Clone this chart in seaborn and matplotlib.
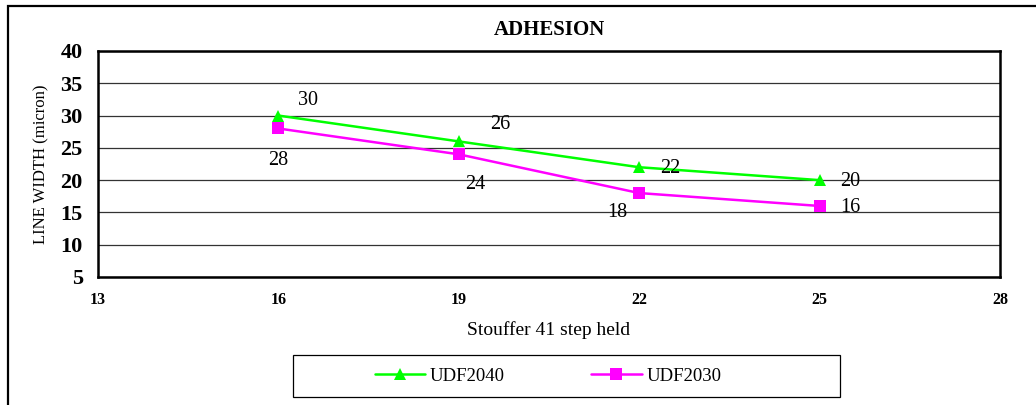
import matplotlib
matplotlib.use("Agg")
import matplotlib.pyplot as plt
import seaborn as sns
import pandas as pd
from matplotlib.patches import Rectangle

# Data
steps = [16, 19, 22, 25]
udf2040 = [30, 26, 22, 20]
udf2030 = [28, 24, 18, 16]
series_names = ["UDF2040", "UDF2030"]

x_ticks = [13, 16, 19, 22, 25, 28]
y_ticks = [5, 10, 15, 20, 25, 30, 35, 40]

# Label offsets in points (dx, dy) for each value label
off_2040 = [(21, 11), (30, 12), (22, -1), (22, -1)]
off_2030 = [(0, -23), (12, -22), (-16, -14), (22, -1)]

sns.set_theme(style="white")
plt.rcParams["font.family"] = ["Liberation Serif", "DejaVu Serif"]
plt.rcParams["text.color"] = "black"
plt.rcParams["axes.labelcolor"] = "black"
plt.rcParams["xtick.color"] = "black"
plt.rcParams["ytick.color"] = "black"

W, H = 1036, 405
fig = plt.figure(figsize=(W / 100, H / 100), dpi=100)
ax = fig.add_axes([98 / W, 1 - 277 / H, 902 / W, 226 / H])

df = pd.DataFrame({
    "step": steps * 2,
    "width": udf2040 + udf2030,
    "series": [series_names[0]] * len(steps) + [series_names[1]] * len(steps),
})

palette = {"UDF2040": "#00FF00", "UDF2030": "#FF00FF"}
markers = {"UDF2040": "^", "UDF2030": "s"}
sns.lineplot(data=df, x="step", y="width", hue="series", style="series",
             palette=palette, markers=markers, dashes=False, linewidth=1.8,
             markersize=8.5, markeredgewidth=0, ax=ax)

# Value labels
for vals, offs in ((udf2040, off_2040), (udf2030, off_2030)):
    for x, v, (dx, dy) in zip(steps, vals, offs):
        ax.annotate(f"{v}", (x, v), xytext=(dx, dy), textcoords="offset points",
                    ha="center", va="center", fontsize=14.5, color="black")

ax.set_xlim(13, 28)
ax.set_ylim(5, 40)
ax.set_xticks(x_ticks)
ax.set_yticks(y_ticks)
ax.set_xticklabels([str(t) for t in x_ticks], fontsize=11.5, fontweight="bold")
ax.set_yticklabels([str(t) for t in y_ticks], fontsize=16, fontweight="bold")
ax.tick_params(axis="x", direction="in", length=4, width=0.8, color="#555555", pad=11)
ax.tick_params(axis="y", length=0, pad=11)

ax.yaxis.grid(True, color="#333333", linewidth=0.9)
ax.xaxis.grid(False)
ax.set_axisbelow(True)
for s in ax.spines.values():
    s.set_visible(True)
    s.set_color("black")
    s.set_linewidth(1.8)

ax.set_title("ADHESION", fontsize=15, fontweight="bold", pad=11.5, color="black")
ax.set_xlabel("Stouffer 41 step held", fontsize=14, labelpad=9)
ax.set_ylabel("LINE WIDTH (micron)", fontsize=12, labelpad=8)

# Legend with its own box
handles, labels = ax.get_legend_handles_labels()
ax.legend_.remove()
leg = fig.legend(handles, labels, loc="center", ncol=2,
                 bbox_to_anchor=(548 / W, 1 - 376 / H),
                 frameon=False, fontsize=13.5,
                 handlelength=2.7, handletextpad=0.25, columnspacing=4.6)
fig.patches.append(Rectangle((293 / W, 1 - 397 / H), 547 / W, 42 / H,
                             transform=fig.transFigure, fill=False,
                             edgecolor="black", linewidth=0.9))

# Outer chart border
fig.patches.append(Rectangle((8 / W, -0.1), 1.1, 1 - 6 / H + 0.1,
                             transform=fig.transFigure, fill=False,
                             edgecolor="black", linewidth=1.6))

fig.savefig("out.png", dpi=100)
